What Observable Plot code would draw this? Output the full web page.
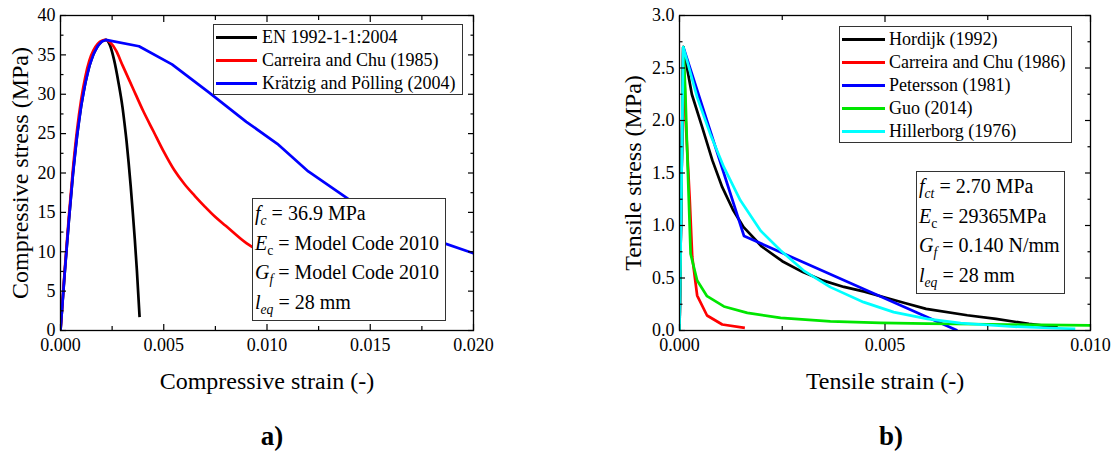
<!DOCTYPE html>
<html>
<head>
<meta charset="utf-8">
<script src="https://cdn.jsdelivr.net/npm/d3@7"></script>
<script src="https://cdn.jsdelivr.net/npm/@observablehq/plot@0.6"></script>
<style>
html, body { margin: 0; padding: 0; background: #fff; }
#root { position: relative; width: 1113px; height: 455px; overflow: hidden;
  font-family: "Liberation Serif", "Times New Roman", serif; color: #000; }
.panel { position: absolute; top: 0; }
.legend { position: absolute; background: #fff; border: 1px solid #333; box-sizing: border-box; font-size: 18px; }
.legend .sw { position: absolute; height: 3px; }
.legend .lbl { position: absolute; line-height: 23px; white-space: nowrap; }
.note { position: absolute; background: #fff; border: 1px solid #333; box-sizing: border-box;
  font-size: 20px; line-height: 29.5px; white-space: nowrap; }
.note sub { font-size: 0.68em; vertical-align: -0.35em; line-height: 0; }
.tag { position: absolute; font-weight: bold; font-size: 27px; transform: translate(-50%, -50%); }
</style>
</head>
<body>
<div id="root"></div>
<script>
// ---------- a) Compressive behaviour ----------
const compSeries = ["EN 1992-1-1:2004", "Carreira and Chu (1985)", "Krätzig and Pölling (2004)"];
const compColors = ["#000000", "#ff0000", "#0000ff"];
const compCurves = ["monotone-x", "monotone-x", "linear"];

const enStrain = [0, 0.0002, 0.0004, 0.0006, 0.0008, 0.001, 0.0012, 0.0014, 0.0016, 0.0018, 0.002, 0.0022,
  0.0024, 0.0026, 0.0028, 0.003, 0.0031, 0.0032, 0.0033, 0.0034, 0.0035, 0.0036, 0.0037, 0.00383];
const enStress = [0, 7.2, 13.8, 19.8, 24.7, 28.5, 31.4, 33.6, 35.1, 36.1, 36.7, 36.9,
  36.2, 34.3, 31.6, 28.4, 26.3, 24.0, 21.3, 18.3, 15.0, 11.5, 7.6, 1.7];

const ccStrain = [0, 0.0002, 0.0004, 0.0006, 0.0008, 0.001, 0.0012, 0.0014, 0.0016, 0.0018, 0.002, 0.0022,
  0.0024, 0.0027, 0.003, 0.0035, 0.004, 0.0045, 0.005, 0.0055, 0.006, 0.0065, 0.007, 0.0075, 0.008,
  0.009, 0.010, 0.011, 0.012];
const ccStress = [0, 7.5, 14.3, 20.4, 25.4, 29.3, 32.2, 34.3, 35.6, 36.4, 36.8, 36.9,
  36.6, 35.5, 33.7, 30.8, 27.9, 25.3, 22.7, 20.4, 18.6, 17.1, 15.7, 14.4, 13.3,
  11.1, 9.6, 8.5, 7.6];

const kpStrain = [0, 0.0002, 0.0004, 0.0006, 0.0008, 0.001, 0.0012, 0.0014, 0.0016, 0.0018, 0.002, 0.0022,
  0.0038, 0.0054, 0.0072, 0.009, 0.0105, 0.012, 0.014, 0.016, 0.018, 0.020];
const kpStress = [0, 7.2, 13.8, 19.8, 24.7, 28.5, 31.4, 33.6, 35.1, 36.1, 36.7, 36.9,
  36.1, 33.8, 30.2, 26.5, 23.7, 20.2, 16.6, 13.8, 11.6, 9.8];

const compXTicks = [0, 0.0025, 0.005, 0.0075, 0.01, 0.0125, 0.015, 0.0175, 0.02];
const compXLabels = [0, 0.005, 0.01, 0.015, 0.02];
const compYTicks = [0, 2.5, 5, 7.5, 10, 12.5, 15, 17.5, 20, 22.5, 25, 27.5, 30, 32.5, 35, 37.5, 40];
const compYLabels = [0, 5, 10, 15, 20, 25, 30, 35, 40];

// ---------- b) Tensile behaviour ----------
const tenSeries = ["Hordijk (1992)", "Carreira and Chu (1986)", "Petersson (1981)", "Guo (2014)", "Hillerborg (1976)"];
const tenColors = ["#000000", "#ff0000", "#0000ff", "#00e600", "#00ffff"];
const tenCurves = ["linear", "linear", "linear", "linear", "linear"];

const hoStrain = [0, 0.000092, 0.0003, 0.00055, 0.0008, 0.00104, 0.0013, 0.00156, 0.002, 0.0025, 0.003,
  0.0035, 0.004, 0.0045, 0.005, 0.0055, 0.006, 0.007, 0.0077, 0.0085, 0.0092];
const hoStress = [0, 2.7, 2.25, 1.94, 1.62, 1.365, 1.15, 0.984, 0.8, 0.66, 0.556,
  0.475, 0.415, 0.37, 0.315, 0.26, 0.206, 0.145, 0.11, 0.063, 0.03];

const ct86Strain = [0, 0.000092, 0.00012, 0.00015, 0.00025, 0.00031, 0.00043, 0.00067, 0.00104, 0.00159];
const ct86Stress = [0, 2.7, 2.4, 2.0, 1.24, 0.7, 0.333, 0.143, 0.057, 0.025];

const peStrain = [0, 0.000092, 0.00157, 0.00676];
const peStress = [0, 2.7, 0.9, 0];

const guStrain = [0, 0.000092, 0.00014, 0.0002, 0.00027, 0.00043, 0.00067, 0.00108, 0.00165, 0.00246,
  0.00367, 0.00489, 0.00603, 0.008, 0.010];
const guStress = [0, 2.7, 2.3, 1.555, 0.73, 0.476, 0.327, 0.229, 0.168, 0.121,
  0.086, 0.073, 0.066, 0.057, 0.048];

const hiStrain = [0, 0.000092, 0.00043, 0.00075, 0.00108, 0.00148, 0.00197, 0.00246, 0.00302, 0.00367,
  0.00448, 0.00521, 0.00603, 0.00684, 0.00805, 0.009, 0.00963];
const hiStress = [0, 2.7, 2.22, 1.87, 1.555, 1.24, 0.952, 0.762, 0.571, 0.413,
  0.27, 0.175, 0.111, 0.07, 0.038, 0.024, 0.016];

const tenXTicks = [0, 0.0025, 0.005, 0.0075, 0.01];
const tenXLabels = [0, 0.005, 0.01];
const tenYTicks = [0, 0.25, 0.5, 0.75, 1, 1.25, 1.5, 1.75, 2, 2.25, 2.5, 2.75, 3];
const tenYLabels = [0, 0.5, 1, 1.5, 2, 2.5, 3];

// ---------- build tables ----------
function table(names, xs, ys) {
  return names.map((name, i) => xs[i].map((x, j) => ({name, x, y: ys[i][j]})));
}
const compData = table(compSeries, [enStrain, ccStrain, kpStrain], [enStress, ccStress, kpStress]);
const tenData = table(tenSeries, [hoStrain, ct86Strain, peStrain, guStrain, hiStrain],
  [hoStress, ct86Stress, peStress, guStress, hiStress]);

const FONT = "'Liberation Serif', 'Times New Roman', serif";

function frameAxes(xTicks, xLabels, xFmt, yTicks, yLabels, yFmt) {
  const isMajor = (v, arr) => arr.some(a => Math.abs(a - v) < 1e-9);
  const xMinor = xTicks.filter(v => !isMajor(v, xLabels));
  const yMinor = yTicks.filter(v => !isMajor(v, yLabels));
  const blank = () => "";
  const marks = [];
  for (const anchor of ["bottom", "top"]) {
    marks.push(Plot.axisX({anchor, ticks: xLabels, tickSize: -6, tickFormat: blank, label: null, strokeWidth: 1.2}));
    marks.push(Plot.axisX({anchor, ticks: xMinor, tickSize: -4, tickFormat: blank, label: null, strokeWidth: 1.2}));
  }
  for (const anchor of ["left", "right"]) {
    marks.push(Plot.axisY({anchor, ticks: yLabels, tickSize: -6, tickFormat: blank, label: null, strokeWidth: 1.2}));
    marks.push(Plot.axisY({anchor, ticks: yMinor, tickSize: -3.5, tickFormat: blank, label: null, strokeWidth: 1.2}));
  }
  marks.push(Plot.axisX({anchor: "bottom", ticks: xLabels, tickSize: 0, tickPadding: 8, tickFormat: xFmt, label: null, fontSize: 18}));
  marks.push(Plot.axisY({anchor: "left", ticks: yLabels, tickSize: 0, tickPadding: 5, tickFormat: yFmt, label: null, fontSize: 18}));
  return marks;
}

function chart({data, series, colors, curves, xDomain, yDomain, width, marginLeft, marginRight, xTitle, yTitle, yTitleDx,
                xTicks, xLabels, xFmt, yTicks, yLabels, yFmt}) {
  return Plot.plot({
    width, height: 400,
    marginLeft, marginRight, marginTop: 15, marginBottom: 70,
    x: {domain: xDomain},
    y: {domain: yDomain},
    color: {domain: series, range: colors},
    style: {fontFamily: FONT, fontSize: "18px", color: "#000", background: "transparent", overflow: "visible"},
    marks: [
      ...data.map((rows, i) => Plot.line(rows, {x: "x", y: "y", stroke: "name", strokeWidth: 2.7, clip: true,
        curve: curves[i], strokeLinejoin: "round", strokeLinecap: "butt"})),
      Plot.frame({stroke: "#000", strokeWidth: 1.3}),
      ...frameAxes(xTicks, xLabels, xFmt, yTicks, yLabels, yFmt),
      Plot.text([xTitle], {text: d => d, frameAnchor: "bottom", lineAnchor: "middle", textAnchor: "middle", dy: 51, fontSize: 24}),
      Plot.text([yTitle], {text: d => d, frameAnchor: "left", lineAnchor: "middle", textAnchor: "middle", dx: yTitleDx, rotate: -90, fontSize: 24})
    ]
  });
}

const root = document.getElementById("root");

const left = chart({
  data: compData, series: compSeries, colors: compColors, curves: compCurves,
  xDomain: [0, 0.02], yDomain: [0, 40], width: 556, marginLeft: 60, marginRight: 83,
  xTitle: "Compressive strain (-)", yTitle: "Compressive stress (MPa)", yTitleDx: -40,
  xTicks: compXTicks, xLabels: compXLabels, xFmt: d3.format(".3f"),
  yTicks: compYTicks, yLabels: compYLabels, yFmt: d3.format("d")
});
const right = chart({
  data: tenData, series: tenSeries, colors: tenColors, curves: tenCurves,
  xDomain: [0, 0.01], yDomain: [0, 3], width: 557, marginLeft: 123, marginRight: 23,
  xTitle: "Tensile strain (-)", yTitle: "Tensile stress (MPa)", yTitleDx: -46,
  xTicks: tenXTicks, xLabels: tenXLabels, xFmt: d3.format(".3f"),
  yTicks: tenYTicks, yLabels: tenYLabels, yFmt: d3.format(".1f")
});

function panel(node, leftPx) {
  const d = document.createElement("div");
  d.className = "panel";
  d.style.left = leftPx + "px";
  d.appendChild(node);
  root.appendChild(d);
}
panel(left, 0);
panel(right, 556);

function legend({x, y, w, h, names, colors, sw0, sw1, tx}) {
  const box = document.createElement("div");
  box.className = "legend";
  Object.assign(box.style, {left: x + "px", top: y + "px", width: w + "px", height: h + "px"});
  names.forEach((name, i) => {
    const cy = 12 + i * 23;
    const s = document.createElement("div");
    s.className = "sw";
    Object.assign(s.style, {left: sw0 + "px", width: (sw1 - sw0) + "px", top: (cy - 1.5) + "px", background: colors[i]});
    const t = document.createElement("div");
    t.className = "lbl";
    Object.assign(t.style, {left: tx + "px", top: (cy - 11.5) + "px"});
    t.textContent = name;
    box.appendChild(s);
    box.appendChild(t);
  });
  root.appendChild(box);
}
legend({x: 213, y: 24, w: 250, h: 71, names: compSeries, colors: compColors, sw0: 2, sw1: 43, tx: 48});
legend({x: 839, y: 26, w: 233, h: 117, names: tenSeries, colors: tenColors, sw0: 2, sw1: 45, tx: 49});

function note(x, y, w, h, html) {
  const d = document.createElement("div");
  d.className = "note";
  Object.assign(d.style, {left: x + "px", top: y + "px", width: w + "px", height: h + "px", paddingLeft: "2px"});
  d.innerHTML = html;
  root.appendChild(d);
}
note(252, 198, 194, 123,
  "<i>f</i><sub><i>c</i></sub> = 36.9 MPa<br>" +
  "<i>E</i><sub>c</sub> = Model Code 2010<br>" +
  "<i>G</i><sub><i>f</i></sub> = Model Code 2010<br>" +
  "<i>l</i><sub><i>eq</i></sub> = 28 mm");
note(916, 171, 149, 123,
  "<i>f</i><sub><i>ct</i></sub> = 2.70 MPa<br>" +
  "<i>E</i><sub>c</sub> = 29365MPa<br>" +
  "<i>G</i><sub><i>f</i></sub> = 0.140 N/mm<br>" +
  "<i>l</i><sub><i>eq</i></sub> = 28 mm");

function tag(x, y, text) {
  const d = document.createElement("div");
  d.className = "tag";
  Object.assign(d.style, {left: x + "px", top: y + "px"});
  d.textContent = text;
  root.appendChild(d);
}
tag(272, 436, "a)");
tag(891, 436, "b)");
</script>
</body>
</html>
